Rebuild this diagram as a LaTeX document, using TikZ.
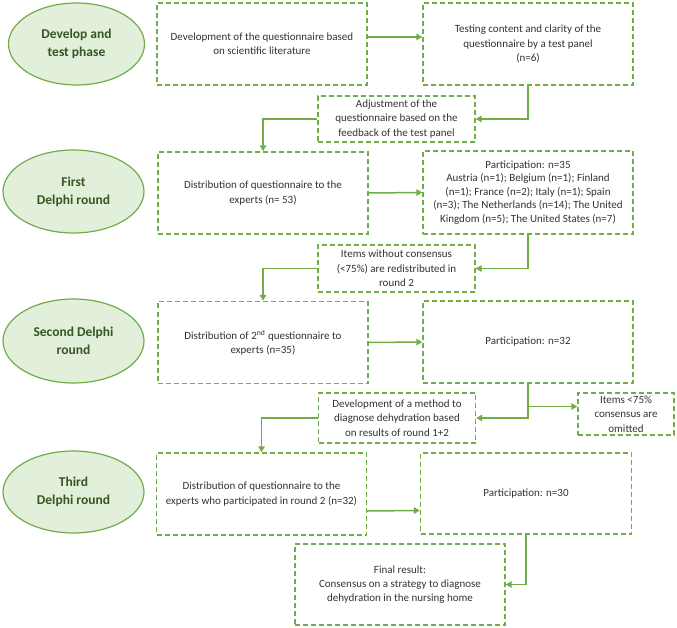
\documentclass[tikz,border=0pt]{standalone}
\usepackage{fontspec}
\setmainfont{Carlito}
\usetikzlibrary{arrows.meta,shapes.geometric}
\definecolor{gborder}{HTML}{70AD47}
\definecolor{gfill}{HTML}{E2EFDA}
\definecolor{gtext}{HTML}{375623}
\definecolor{btext}{HTML}{333333}
\tikzset{
  box/.style={draw=gborder, line width=1.4pt, dash pattern=on 5pt off 3pt, fill=white,
    align=center, text=btext, font=\fontsize{11}{14.3}\selectfont, inner sep=1pt},
  phase/.style={ellipse, draw=gborder, line width=1.2pt, fill=gfill, align=center,
    text=gtext, font=\fontsize{13.5}{18}\selectfont\bfseries, inner sep=0pt},
  arr/.style={draw=gborder, line width=1.5pt, -{Triangle[length=6pt,width=6.5pt]}},
}
\begin{document}
\begin{tikzpicture}[x=1pt,y=-1pt]
\useasboundingbox (0,0) rectangle (677,628);
% phases
\node[phase, minimum width=136pt, minimum height=82pt] (e1) at (76.5,44) {Develop and\\test phase};
\node[phase, minimum width=141pt, minimum height=83pt] (e2) at (73.5,191.5) {First\\Delphi round};
\node[phase, minimum width=141pt, minimum height=84pt] (e3) at (73.5,341) {Second Delphi\\round};
\node[phase, minimum width=141pt, minimum height=82pt] (e4) at (73.5,492) {Third\\Delphi round};
% row 1
\node[box, minimum width=210pt, minimum height=82pt] (b1) at (262,44) {Development of the questionnaire based\\on scientific literature};
\node[box, minimum width=210pt, minimum height=82pt] (b2) at (528,44) {Testing content and clarity of the\\questionnaire by a test panel\\(n=6)};
\node[box, minimum width=157pt, minimum height=46pt] (adj) at (396.5,119) {Adjustment of the\\questionnaire based on the\\feedback of the test panel};
% row 2
\node[box, minimum width=210pt, minimum height=82pt] (b3) at (263,193) {Distribution of questionnaire to the\\experts (n= 53)};
\node[box, minimum width=210pt, minimum height=83pt, font=\fontsize{11}{13.6}\selectfont] (b4) at (528,192.5) {Participation: n=35\\Austria (n=1); Belgium (n=1); Finland\\(n=1); France (n=2); Italy (n=1); Spain\\(n=3); The Netherlands (n=14); The United\\Kingdom (n=5); The United States (n=7)};
\node[box, minimum width=157pt, minimum height=47pt] (items) at (396.5,268.5) {Items without consensus\\(<75\%) are redistributed in\\round 2};
% row 3
\node[box, minimum width=210pt, minimum height=82pt] (b5) at (263,342.5) {Distribution of 2\textsuperscript{nd} questionnaire to\\experts (n=35)};
\node[box, minimum width=210pt, minimum height=82pt] (b6) at (528,342) {Participation: n=32};
\node[box, minimum width=157pt, minimum height=50pt] (dev) at (397,418) {Development of a method to\\diagnose dehydration based\\on results of round 1+2};
\node[box, minimum width=96pt, minimum height=42pt] (omit) at (626,414) {Items <75\%\\consensus are\\omitted};
% row 4
\node[box, minimum width=210pt, minimum height=82pt] (b7) at (261.5,494) {Distribution of questionnaire to the\\experts who participated in round 2 (n=32)};
\node[box, minimum width=211pt, minimum height=81pt] (b8) at (526,493.5) {Participation: n=30};
\node[box, minimum width=210pt, minimum height=81pt] (fin) at (400,584.5) {Final result:\\Consensus on a strategy to diagnose\\dehydration in the nursing home};
% connectors
\draw[arr] ([yshift=7pt]b1.east) -- ([yshift=7pt]b2.west);
\draw[arr] (b2.south) |- (adj.east);
\draw[arr] (adj.west) -| (b3.north);
\draw[arr] (b3.east) -- (b4.west);
\draw[arr] (b4.south) |- (items.east);
\draw[arr] (items.west) -| (b5.north);
\draw[arr] (b5.east) -- (b6.west);
\draw[arr] (b6.south) |- (dev.east);
\draw[arr] (b6.south |- omit.west) ++(0,-7.5) -- ([yshift=7.5pt]omit.west);
\draw[arr] (dev.west) -| (b7.north);
\draw[arr] ([yshift=-17pt]b7.east) -- ([yshift=-17pt]b8.west);
\draw[arr] (b8.south) |- (fin.east);
\end{tikzpicture}
\end{document}
